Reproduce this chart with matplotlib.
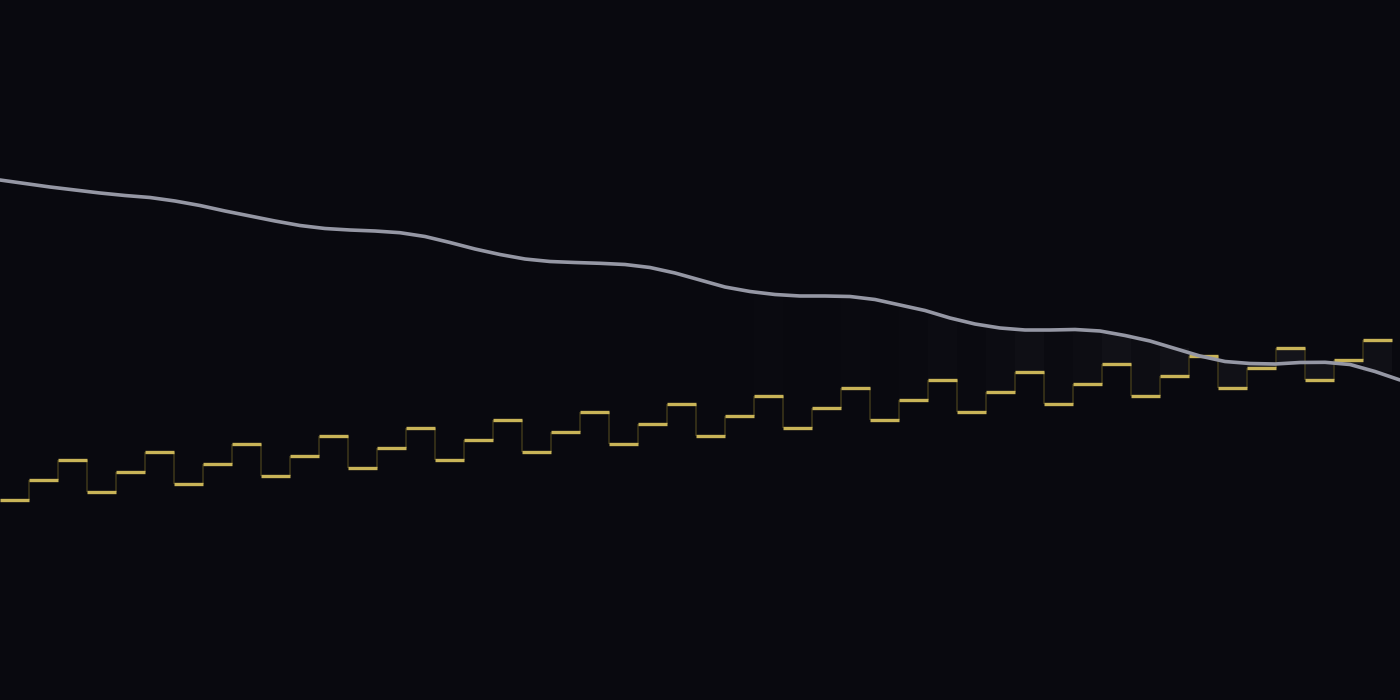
import numpy as np
import matplotlib.pyplot as plt

# step series: one value per bar (px from bottom)
step_vals = [200, 220, 240, 208, 228, 248, 216, 236, 256, 224, 244, 264,
             232, 252, 272, 240, 260, 280, 248, 268, 288, 256, 276, 296,
             264, 284, 304, 272, 292, 312, 280, 300, 320, 288, 308, 328,
             296, 316, 336, 304, 324, 344, 312, 332, 352, 320, 340, 360]
step_width = 29

# smooth grey line, sampled every 25 px
line_x = np.arange(0, 1401, 25)
line_vals = [520, 516.5, 513, 510, 507, 504.5, 502.5, 499, 494.5, 489, 484, 479,
             474.5, 471.5, 470, 469, 467.3, 463.5, 457.5, 451, 445.5, 441, 438.5,
             437.5, 436.7, 435.5, 432.5, 427, 420, 413, 408.5, 405.5, 404, 404,
             403.5, 400.5, 395, 389.5, 382, 376, 372, 370, 370, 370.5, 369,
             364.5, 359, 351.5, 344, 338.5, 336.5, 336, 337.5, 337.7, 335.5,
             328.5, 320]

bg = "#09090f"
yellow = "#c9b458"
grey = "#959825"
grey = "#9597a4"
stem = "#3a3419"

fig = plt.figure(figsize=(14, 7), dpi=100, facecolor=bg)
ax = fig.add_axes([0, 0, 1, 1])
ax.set_facecolor(bg)

edges = np.arange(len(step_vals) + 1) * step_width
left = edges[:-1]
right = edges[1:]

# faint shading between each step and the grey line
for l, r, v in zip(left, right, step_vals):
    g = np.interp((l + r) / 2, line_x, line_vals)
    gap = abs(g - v)
    a = 0.065 * np.exp(-gap / 45)
    ax.fill_between([l, r], v, g, color="white", alpha=a, linewidth=0)

# vertical connectors
ax.vlines(edges[1:-1], step_vals[:-1], step_vals[1:], color=stem, linewidth=1.2)
# horizontal steps
ax.hlines(step_vals, left, right, color=yellow, linewidth=2.4)

ax.plot(line_x, line_vals, color=grey, linewidth=2.6, solid_capstyle="round",
        solid_joinstyle="round")

ax.set_xlim(0, 1400)
ax.set_ylim(0, 700)
ax.axis("off")

fig.savefig("out.png", dpi=100, facecolor=bg)
